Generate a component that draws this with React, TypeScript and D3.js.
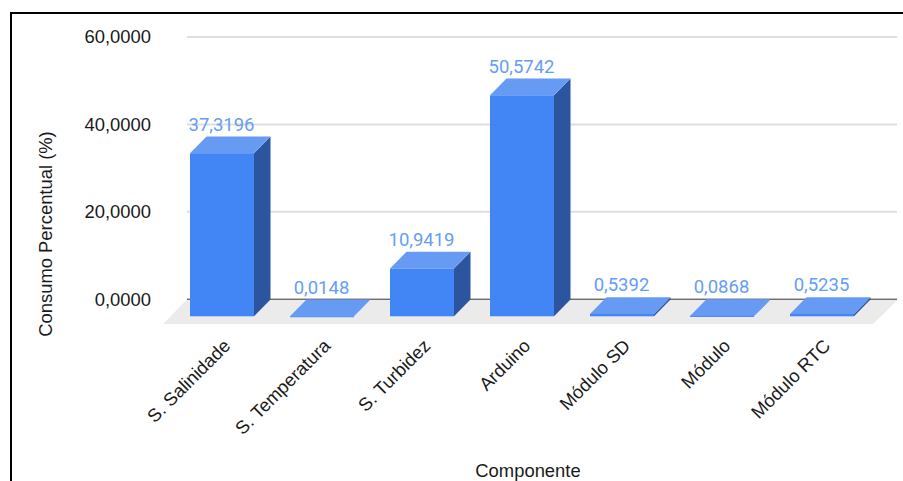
import { scaleBand, scaleLinear } from "d3";

const categories = [
  "S. Salinidade",
  "S. Temperatura",
  "S. Turbidez",
  "Arduino",
  "Módulo SD",
  "Módulo",
  "Módulo RTC",
];
const values = [37.3196, 0.0148, 10.9419, 50.5742, 0.5392, 0.0868, 0.5235];
const yTicks = [0, 20, 40, 60];

const WIDTH = 903;
const HEIGHT = 481;
const DEPTH_X = 16.5;
const DEPTH_Y = 16.7;
const FRONT_BASE = 316.3;
const SANS = "'Liberation Sans', Arial, sans-serif";
const FONT_SIZE = 18.4;

const fmt = (v: number, digits: number) => v.toFixed(digits).replace(".", ",");

const App = () => {
  const y = scaleLinear().domain([0, 60]).range([299.2, 37]);
  const x = scaleBand<string>()
    .domain(categories)
    .range([172, 872])
    .paddingInner(0.36)
    .paddingOuter(0.18);

  const floor = [
    [163, 324],
    [187, 299.5],
    [898, 299.5],
    [873, 324],
  ];

  return (
    <svg
      width={WIDTH}
      height={HEIGHT}
      style={{ position: "absolute", left: 0, top: 0, background: "#fff" }}
    >
      <path d={`M11,481V13H${WIDTH}`} fill="none" stroke="#000" strokeWidth={2} />

      {yTicks.map((t) => (
        <g key={t}>
          {t > 0 && (
            <line x1={187} x2={897} y1={y(t)} y2={y(t)} stroke="#dedede" strokeWidth={2} />
          )}
          <text
            x={151}
            y={y(t) + 6.3}
            textAnchor="end"
            fontFamily={SANS}
            fontSize={FONT_SIZE}
            fill="#1a1a1a"
          >
            {fmt(t, 4)}
          </text>
        </g>
      ))}

      <polygon points={floor.map((p) => p.join(",")).join(" ")} fill="#ebebeb" />
      <line x1={187} x2={897} y1={y(0)} y2={y(0)} stroke="#333" strokeWidth={1} />

      {categories.map((c, i) => {
        const x0 = x(c) as number;
        const x1 = x0 + x.bandwidth();
        const h = y(0) - y(values[i]);
        const top = FRONT_BASE - h;
        return (
          <g key={c}>
            <polygon
              points={`${x1},${top} ${x1 + DEPTH_X},${top - DEPTH_Y} ${x1 + DEPTH_X},${FRONT_BASE - DEPTH_Y} ${x1},${FRONT_BASE}`}
              fill="#2b569f"
            />
            <polygon
              points={`${x0},${top} ${x0 + DEPTH_X},${top - DEPTH_Y} ${x1 + DEPTH_X},${top - DEPTH_Y} ${x1},${top}`}
              fill="#669af3"
            />
            <rect x={x0} y={top} width={x.bandwidth()} height={Math.max(h, 1)} fill="#4285f4" />
            <text
              x={x0 + x.bandwidth() / 2 - 0.5}
              y={top - DEPTH_Y - 6}
              textAnchor="middle"
              fontFamily="Roboto, sans-serif"
              fontSize={18.5}
              fill="#669df6"
            >
              {fmt(values[i], 4)}
            </text>
            <text
              transform={`translate(${x0 + x.bandwidth() / 2 + 9.5},347) rotate(-45)`}
              textAnchor="end"
              fontFamily={SANS}
              fontSize={FONT_SIZE}
              fill="#1a1a1a"
            >
              {c}
            </text>
          </g>
        );
      })}

      <text
        transform="translate(52,234) rotate(-90)"
        textAnchor="middle"
        fontFamily={SANS}
        fontSize={FONT_SIZE}
        fill="#1a1a1a"
      >
        Consumo Percentual (%)
      </text>
      <text x={528} y={477} textAnchor="middle" fontFamily={SANS} fontSize={FONT_SIZE} fill="#1a1a1a">
        Componente
      </text>
    </svg>
  );
};

export default App;
